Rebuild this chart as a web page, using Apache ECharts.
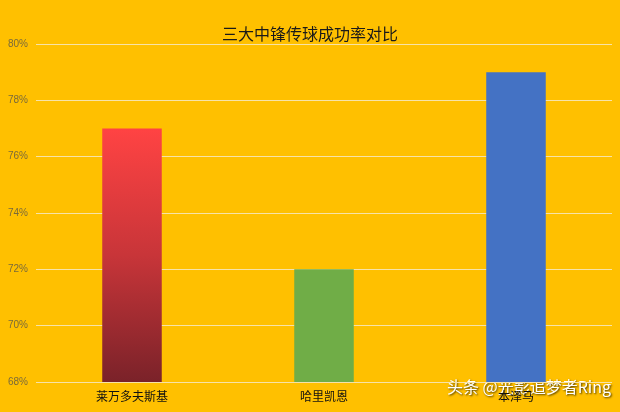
<!DOCTYPE html>
<html><head><meta charset="utf-8">
<script src="https://cdn.jsdelivr.net/npm/echarts@6/dist/echarts.min.js"></script>
<style>html,body{margin:0;padding:0;background:#FFC000;}#c{width:620px;height:412px;}</style>
</head><body><div id="c"></div>
<script>
const categories = ['莱万多夫斯基', '哈里凯恩', '本泽马'];
const passRates = [77, 72, 79];
const yTicks = [68, 70, 72, 74, 76, 78, 80];

const chart = echarts.init(document.getElementById('c'));
const colors = [
  new echarts.graphic.LinearGradient(0, 0, 0, 1, [{offset: 0, color: '#FF4343'}, {offset: 0.5, color: '#C83539'}, {offset: 1, color: '#7A2229'}]),
  '#70AD47',
  '#4472C4'
];
chart.setOption({
  backgroundColor: '#FFC000',
  animation: false,
  title: {text: '三大中锋传球成功率对比', left: 'center', top: 21,
    textStyle: {fontSize: 16, fontWeight: 'normal', color: '#1a1a1a', fontFamily: 'Noto Sans CJK SC'}},
  grid: {left: 36, right: 8, top: 44, bottom: 30},
  xAxis: {type: 'category', data: categories,
    axisLine: {show: false}, axisTick: {show: false},
    axisLabel: {color: '#111', fontSize: 12, margin: 8, fontFamily: 'Noto Sans CJK SC'}},
  yAxis: {type: 'value', min: yTicks[0], max: yTicks[yTicks.length - 1], interval: 2,
    axisLabel: {formatter: '{value}%', color: '#7a6a3a', fontSize: 10, margin: 8},
    axisLine: {show: false}, axisTick: {show: false},
    splitLine: {lineStyle: {color: '#F7E3A8', width: 1}}},
  series: [{type: 'bar', barWidth: '31%',
    data: passRates.map((v, i) => ({value: v, itemStyle: {color: colors[i]}}))}],
  graphic: [{type: 'text', right: 9, top: 379,
    style: {text: '头条 @光影追梦者Ring', fill: '#ffffff', fontSize: 16,
      fontFamily: 'Noto Sans CJK SC', textShadowColor: 'rgba(0,0,0,0.75)', textShadowBlur: 2,
      textShadowOffsetX: 1, textShadowOffsetY: 1}}]
});
</script></body></html>
